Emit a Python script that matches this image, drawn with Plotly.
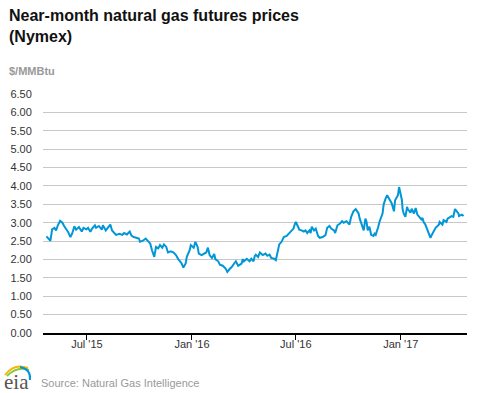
import plotly.graph_objects as go

dates = [
    "2015-04-21", "2015-04-24", "2015-04-28", "2015-05-01", "2015-05-05", "2015-05-08", "2015-05-11",
    "2015-05-15", "2015-05-19", "2015-05-22", "2015-05-29", "2015-06-02", "2015-06-05", "2015-06-09",
    "2015-06-12", "2015-06-17", "2015-06-22", "2015-06-25", "2015-06-30", "2015-07-03", "2015-07-07",
    "2015-07-10", "2015-07-15", "2015-07-17", "2015-07-22", "2015-07-27", "2015-07-29", "2015-08-03",
    "2015-08-07", "2015-08-11", "2015-08-14", "2015-08-18", "2015-08-21", "2015-08-27", "2015-09-01",
    "2015-09-04", "2015-09-09", "2015-09-14", "2015-09-17", "2015-09-21", "2015-09-25", "2015-09-30",
    "2015-10-02", "2015-10-07", "2015-10-12", "2015-10-16", "2015-10-20", "2015-10-23", "2015-10-27",
    "2015-10-30", "2015-11-03", "2015-11-06", "2015-11-10", "2015-11-13", "2015-11-17", "2015-11-20",
    "2015-11-25", "2015-11-30", "2015-12-04", "2015-12-08", "2015-12-14", "2015-12-17", "2015-12-21",
    "2015-12-23", "2015-12-28", "2015-12-30",
    "2016-01-04", "2016-01-05", "2016-01-07", "2016-01-11", "2016-01-13", "2016-01-18", "2016-01-22",
    "2016-01-26", "2016-01-29", "2016-02-01", "2016-02-05", "2016-02-09", "2016-02-11", "2016-02-16",
    "2016-02-19", "2016-02-24", "2016-02-29", "2016-03-03", "2016-03-07", "2016-03-11", "2016-03-15",
    "2016-03-18", "2016-03-22", "2016-03-28", "2016-03-30", "2016-04-01", "2016-04-06", "2016-04-11",
    "2016-04-14", "2016-04-18", "2016-04-20", "2016-04-22", "2016-04-26", "2016-04-29", "2016-05-04",
    "2016-05-09", "2016-05-12", "2016-05-16", "2016-05-19", "2016-05-24", "2016-05-27", "2016-05-31",
    "2016-06-02", "2016-06-06", "2016-06-10", "2016-06-15", "2016-06-20", "2016-06-23", "2016-06-27",
    "2016-06-29", "2016-07-01", "2016-07-05", "2016-07-07", "2016-07-11", "2016-07-15", "2016-07-18",
    "2016-07-21", "2016-07-25", "2016-07-27", "2016-07-29", "2016-08-02", "2016-08-05", "2016-08-09",
    "2016-08-12", "2016-08-17", "2016-08-22", "2016-08-25", "2016-08-29", "2016-09-01", "2016-09-06",
    "2016-09-08", "2016-09-12", "2016-09-16", "2016-09-20", "2016-09-23", "2016-09-28", "2016-10-03",
    "2016-10-06", "2016-10-10", "2016-10-14", "2016-10-17", "2016-10-19", "2016-10-21", "2016-10-25",
    "2016-10-28", "2016-10-31", "2016-11-02", "2016-11-04", "2016-11-07", "2016-11-10", "2016-11-14",
    "2016-11-16", "2016-11-18", "2016-11-22", "2016-11-25", "2016-11-30", "2016-12-02", "2016-12-05",
    "2016-12-08", "2016-12-12", "2016-12-14", "2016-12-16", "2016-12-20", "2016-12-22", "2016-12-27",
    "2016-12-28", "2016-12-29",
    "2017-01-03", "2017-01-04", "2017-01-06", "2017-01-09", "2017-01-12", "2017-01-13", "2017-01-18",
    "2017-01-20", "2017-01-24", "2017-01-27", "2017-01-30", "2017-02-02", "2017-02-06", "2017-02-08",
    "2017-02-10", "2017-02-13", "2017-02-16", "2017-02-20", "2017-02-22", "2017-02-24", "2017-03-01",
    "2017-03-03", "2017-03-09", "2017-03-10", "2017-03-15", "2017-03-17", "2017-03-22", "2017-03-24",
    "2017-03-31", "2017-04-03", "2017-04-06", "2017-04-10", "2017-04-12", "2017-04-13", "2017-04-18",
    "2017-04-21",
]

prices = [
    2.63, 2.58, 2.51, 2.82, 2.86, 2.79, 2.93,
    3.05, 3.00, 2.91, 2.75, 2.61, 2.70, 2.90,
    2.81, 2.88, 2.76, 2.86, 2.82, 2.86, 2.75,
    2.84, 2.93, 2.86, 2.91, 2.81, 2.93, 2.79,
    2.86, 2.95, 2.79, 2.72, 2.67, 2.70, 2.67,
    2.72, 2.68, 2.76, 2.65, 2.61, 2.60, 2.57,
    2.48, 2.51, 2.57, 2.50, 2.43, 2.25, 2.07,
    2.34, 2.30, 2.39, 2.32, 2.41, 2.34, 2.19,
    2.22, 2.19, 2.12, 2.01, 1.89, 1.78, 1.89,
    2.07, 2.25, 2.39,
    2.32, 2.37, 2.48, 2.34, 2.16, 2.12, 2.16,
    2.19, 2.32, 2.12, 2.04, 2.15, 2.01, 1.95,
    1.86, 1.83, 1.75, 1.66, 1.74, 1.80, 1.89,
    1.95, 1.83, 1.89, 2.01, 1.95, 2.02, 1.95,
    2.02, 1.95, 2.09, 2.13, 2.07, 2.19, 2.12,
    2.16, 2.10, 2.13, 2.04, 2.02, 1.98, 2.22,
    2.41, 2.48, 2.61, 2.64, 2.72, 2.79, 2.84,
    2.95, 3.02, 2.89, 2.81, 2.79, 2.76, 2.79,
    2.72, 2.79, 2.72, 2.89, 2.79, 2.84, 2.64,
    2.59, 2.61, 2.66, 2.86, 2.91, 2.84, 2.79,
    2.72, 2.93, 2.97, 3.04, 3.00, 3.04, 2.95,
    3.16, 3.31, 3.37, 3.27, 3.25, 3.11, 2.95,
    2.79, 3.11, 3.02, 2.79, 2.89, 2.67, 2.64,
    2.70, 2.67, 2.86, 3.04, 3.25, 3.50, 3.64,
    3.75, 3.64, 3.57, 3.53, 3.31, 3.61, 3.75,
    3.93, 3.97,
    3.61, 3.38, 3.25, 3.16, 3.43, 3.38, 3.27,
    3.38, 3.25, 3.40, 3.22, 3.16, 3.09, 3.13,
    3.02, 2.95, 2.84, 2.70, 2.59, 2.66, 2.79,
    2.86, 2.95, 3.02, 2.95, 3.07, 3.02, 3.11,
    3.18, 3.16, 3.37, 3.27, 3.25, 3.18, 3.22,
    3.18,
]

x_tick_vals = ["2015-07-01", "2016-01-01", "2016-07-01", "2017-01-01"]
x_tick_text = ["Jul '15", "Jan '16", "Jul '16", "Jan '17"]
y_tick_vals = [0.0, 0.5, 1.0, 1.5, 2.0, 2.5, 3.0, 3.5, 4.0, 4.5, 5.0, 5.5, 6.0, 6.5]

W, H = 477, 393
ML, MR, MT, MB = 43, 10, 94, 60
PW, PH = W - ML - MR, H - MT - MB


def px(xp):
    return (xp - ML) / PW


def py(yp):
    return (H - MB - yp) / PH


fig = go.Figure()
fig.add_trace(go.Scatter(
    x=dates, y=prices, mode="lines",
    line=dict(color="#0096D7", width=2),
    hoverinfo="x+y", showlegend=False,
))

font_main = "Liberation Sans, Arial, sans-serif"

fig.update_layout(
    width=W, height=H,
    margin=dict(l=ML, r=MR, t=MT, b=MB, pad=0),
    paper_bgcolor="white", plot_bgcolor="white",
    font=dict(family=font_main, size=11, color="#333333"),
    xaxis=dict(
        type="date", range=["2015-04-15", "2017-04-27"],
        tickvals=x_tick_vals, ticktext=x_tick_text,
        showgrid=False, zeroline=False,
        showline=True, linecolor="#000000", linewidth=1.5,
        ticks="outside", ticklen=5, tickcolor="#000000", tickwidth=1,
        ticklabelstandoff=-5,
        tickfont=dict(family=font_main, size=11, color="#333333"),
    ),
    yaxis=dict(
        range=[0, 6.5], tickvals=y_tick_vals, tickformat=".2f",
        showgrid=True, gridcolor="#C8C8C8", gridwidth=1,
        zeroline=False, showline=False,
        ticks="outside", ticklen=8, tickcolor="rgba(0,0,0,0)",
        tickfont=dict(family=font_main, size=11, color="#333333"),
    ),
    annotations=[
        dict(text="<b>Near-month natural gas futures prices<br>(Nymex)</b>",
             xref="paper", yref="paper", x=px(7), y=py(5),
             xanchor="left", yanchor="top", align="left", showarrow=False,
             font=dict(family=font_main, size=16, color="#111111")),
        dict(text="<b>$/MMBtu</b>",
             xref="paper", yref="paper", x=px(7), y=py(63),
             xanchor="left", yanchor="top", align="left", showarrow=False,
             font=dict(family=font_main, size=11, color="#999999")),
        dict(text="Source: Natural Gas Intelligence",
             xref="paper", yref="paper", x=px(39), y=py(383),
             xanchor="left", yanchor="middle", align="left", showarrow=False,
             font=dict(family=font_main, size=11, color="#999999")),
        dict(text="eia",
             xref="paper", yref="paper", x=px(2), y=py(382),
             xanchor="left", yanchor="middle", align="left", showarrow=False,
             font=dict(family="Liberation Serif, DejaVu Serif, serif", size=21, color="#555555")),
    ],
)


def pth(pts):
    (x0, y0), (x1, y1), (x2, y2) = pts
    return f"M {px(x0)},{py(y0)} Q {px(x1)},{py(y1)} {px(x2)},{py(y2)}"


logo_arcs = [
    ([(5, 375), (14, 363), (28, 368)], "#F5B800"),
    ([(7, 376), (17, 366), (29, 370)], "#8DC63F"),
    ([(20, 367), (31, 369), (30, 380)], "#0096D7"),
]
for pts, col in logo_arcs:
    fig.add_shape(type="path", path=pth(pts), xref="paper", yref="paper",
                  line=dict(color=col, width=2))

fig.write_html(
    "out.html",
    config={"displayModeBar": False},
    post_script="document.body.style.margin='0';document.body.style.padding='0';document.body.style.overflow='hidden';",
)
